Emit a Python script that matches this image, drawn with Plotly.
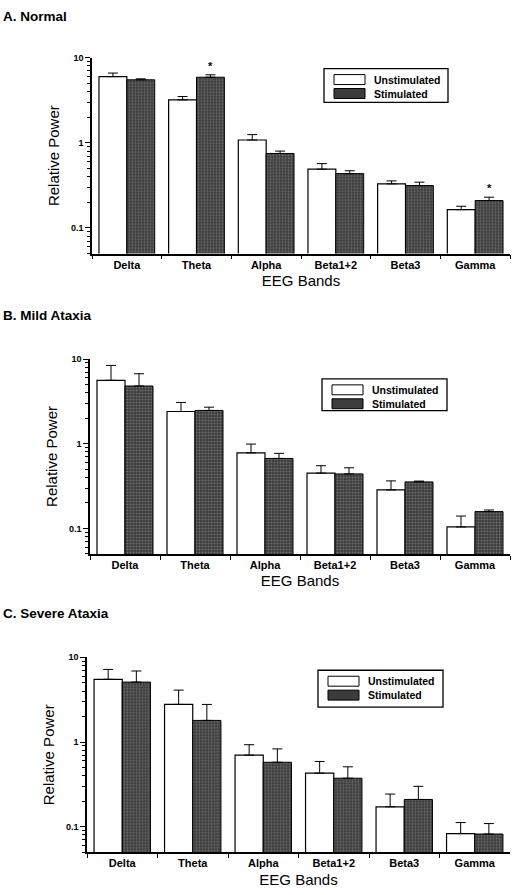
import plotly.graph_objects as go
import numpy as np

# EEG band relative power, mean and upper error (top of SEM bar)
bands = ["Delta", "Theta", "Alpha", "Beta1+2", "Beta3", "Gamma"]

normal_unstim = [6.0, 3.2, 1.08, 0.49, 0.33, 0.164]
normal_unstim_err = [6.6, 3.5, 1.25, 0.57, 0.357, 0.18]
normal_stim = [5.5, 5.9, 0.75, 0.435, 0.315, 0.21]
normal_stim_err = [5.65, 6.3, 0.80, 0.47, 0.345, 0.23]

mild_unstim = [5.6, 2.4, 0.78, 0.45, 0.285, 0.104]
mild_unstim_err = [8.4, 3.07, 0.99, 0.55, 0.364, 0.14]
mild_stim = [4.8, 2.47, 0.67, 0.44, 0.354, 0.158]
mild_stim_err = [6.7, 2.7, 0.77, 0.52, 0.362, 0.165]

severe_unstim = [5.5, 2.78, 0.70, 0.43, 0.172, 0.083]
severe_unstim_err = [7.2, 4.1, 0.93, 0.59, 0.243, 0.112]
severe_stim = [5.1, 1.8, 0.577, 0.374, 0.21, 0.082]
severe_stim_err = [6.9, 2.78, 0.83, 0.51, 0.30, 0.109]

panel_titles = ["A. Normal", "B. Mild Ataxia", "C. Severe Ataxia"]
series_names = ["Unstimulated", "Stimulated"]
# bands with a significant stimulated vs unstimulated difference (normal group)
normal_signif = ["Theta", "Gamma"]

W, H = 513, 895
FONT = "Liberation Sans, Arial, sans-serif"

panels = [
    dict(unstim=normal_unstim, unstim_err=normal_unstim_err, stim=normal_stim,
         stim_err=normal_stim_err, top=53, bottom=250, left=92, title_y=12,
         legend=(324, 448, 64, 98), signif=normal_signif),
    dict(unstim=mild_unstim, unstim_err=mild_unstim_err, stim=mild_stim,
         stim_err=mild_stim_err, top=356, bottom=552, left=90, title_y=312,
         legend=(322, 447, 376, 408), signif=[]),
    dict(unstim=severe_unstim, unstim_err=severe_unstim_err, stim=severe_stim,
         stim_err=severe_stim_err, top=656, bottom=852, left=87, title_y=612,
         legend=(318, 443, 669, 706), signif=[]),
]

fig = go.Figure()
shapes = []
annotations = []

def px_x(x):
    return x / W

def px_y(y):
    return 1 - y / H

stim_pattern = dict(shape=".", bgcolor="#3c3c3c", fgcolor="#a0a0a0", size=3, solidity=0.35)

for i, p in enumerate(panels):
    n = "" if i == 0 else str(i + 1)
    xa, ya = "x" + n, "y" + n
    up_u = [e - v for e, v in zip(p["unstim_err"], p["unstim"])]
    up_s = [e - v for e, v in zip(p["stim_err"], p["stim"])]
    fig.add_trace(go.Bar(
        x=bands, y=p["unstim"], name=series_names[0], xaxis=xa, yaxis=ya,
        marker=dict(color="white", line=dict(color="black", width=1.2)),
        error_y=dict(type="data", symmetric=False, array=up_u, arrayminus=[0] * 6,
                     color="black", thickness=1, width=5),
        showlegend=False,
    ))
    fig.add_trace(go.Bar(
        x=bands, y=p["stim"], name=series_names[1], xaxis=xa, yaxis=ya,
        marker=dict(color="#3c3c3c", pattern=stim_pattern,
                    line=dict(color="black", width=1)),
        error_y=dict(type="data", symmetric=False, array=up_s, arrayminus=[0] * 6,
                     color="black", thickness=1, width=5),
        showlegend=False,
    ))

    dom_x = [px_x(p["left"]), px_x(510)]
    dom_y = [px_y(p["bottom"]), px_y(p["top"])]
    fig.layout["xaxis" + n] = dict(
        domain=dom_x, anchor=ya, type="category",
        showline=True, linecolor="black", linewidth=1.5,
        ticks="outside", tickson="boundaries", ticklen=4, tickcolor="black",
        tickfont=dict(family=FONT, size=11, color="black", weight="bold"),
        title=dict(text="EEG Bands", font=dict(family=FONT, size=15, color="black"),
                   standoff=6),
        showgrid=False, zeroline=False, fixedrange=True,
    )
    fig.layout["yaxis" + n] = dict(
        domain=dom_y, anchor=xa, type="log", range=[np.log10(0.05), 1],
        showline=True, linecolor="black", linewidth=1.5,
        ticks="outside", ticklen=5, tickcolor="black",
        tickvals=[0.1, 1, 10], ticktext=["0.1", "1", "10"],
        minor=dict(ticks="outside", ticklen=3, tickcolor="black",
                   tickvals=[0.05, 0.06, 0.07, 0.08, 0.09,
                             0.2, 0.3, 0.4, 0.5, 0.6, 0.7, 0.8, 0.9,
                             2, 3, 4, 5, 6, 7, 8, 9]),
        tickfont=dict(family=FONT, size=9, color="black", weight="bold"),
        title=dict(text="Relative Power", font=dict(family=FONT, size=15, color="black"),
                   standoff=8),
        showgrid=False, zeroline=False, fixedrange=True,
    )

    annotations.append(dict(
        text=panel_titles[i], xref="paper", yref="paper", x=px_x(1), y=px_y(p["title_y"]),
        xanchor="left", yanchor="middle", showarrow=False,
        font=dict(family=FONT, size=13.5, color="black", weight="bold"),
    ))

    # significance markers above stimulated bars
    for b in p["signif"]:
        k = bands.index(b)
        annotations.append(dict(
            text="*", xref=xa, yref=ya, x=b, y=np.log10(p["stim_err"][k]),
            xshift=14, yshift=1, xanchor="center", yanchor="bottom", showarrow=False,
            font=dict(family=FONT, size=11, color="black", weight="bold"),
        ))

    # legend box
    x0, x1, y0, y1 = p["legend"]
    shapes.append(dict(type="rect", xref="paper", yref="paper",
                       x0=px_x(x0), x1=px_x(x1), y0=px_y(y1), y1=px_y(y0),
                       line=dict(color="black", width=1.3), fillcolor="white"))
    rows = [(y0 + 6, y0 + 16, "white"), (y0 + 20, y0 + 30, "#3c3c3c")]
    for (ry0, ry1, col), name in zip(rows, series_names):
        shapes.append(dict(type="rect", xref="paper", yref="paper",
                           x0=px_x(x0 + 10), x1=px_x(x0 + 41), y0=px_y(ry1), y1=px_y(ry0),
                           line=dict(color="black", width=1), fillcolor=col))
        annotations.append(dict(
            text=name, xref="paper", yref="paper", x=px_x(x0 + 48), y=px_y((ry0 + ry1) / 2),
            xanchor="left", yanchor="middle", showarrow=False,
            font=dict(family=FONT, size=10.5, color="black", weight="bold"),
        ))

fig.update_layout(
    width=W, height=H, margin=dict(l=0, r=0, t=0, b=0),
    paper_bgcolor="white", plot_bgcolor="white",
    barmode="group", bargap=0.2, bargroupgap=0,
    shapes=shapes, annotations=annotations, showlegend=False,
)

fig.write_html("out.html")
